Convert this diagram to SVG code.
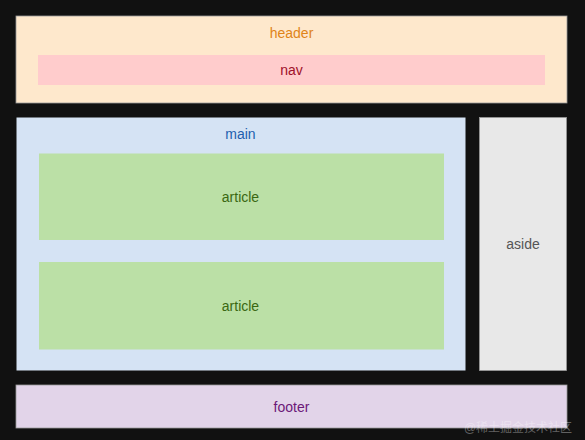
<svg xmlns="http://www.w3.org/2000/svg" width="585" height="440" viewBox="0 0 585 440">
<style>
text{font-family:"Liberation Sans",Arial,sans-serif;font-size:14px;text-anchor:middle;dominant-baseline:central}
.box{stroke:#9a9a9a;stroke-width:0.8}
</style>
<rect width="585" height="440" fill="#111111"/>
<g id="header">
<rect class="box" x="16" y="16" width="551" height="87" fill="#fee8cc"/>
<text x="291.5" y="33" fill="#e08418">header</text>
</g>
<g id="nav">
<rect x="38" y="55" width="507" height="30" fill="#ffcccc"/>
<text x="291.5" y="70" fill="#a0102a">nav</text>
</g>
<g id="main">
<rect x="16.5" y="117.5" width="449" height="253" fill="#d5e3f4"/>
<text x="240.5" y="134" fill="#1e5fae">main</text>
</g>
<g id="article1">
<rect x="39" y="153.5" width="405" height="86.5" fill="#bbe0a6"/>
<text x="240.5" y="196.5" fill="#3a6812">article</text>
</g>
<g id="article2">
<rect x="39" y="262" width="405" height="87.5" fill="#bbe0a6"/>
<text x="240.5" y="305.5" fill="#3a6812">article</text>
</g>
<g id="aside">
<rect class="box" x="479.5" y="117.5" width="87" height="253" fill="#e8e8e8"/>
<text x="523" y="244" fill="#555555">aside</text>
</g>
<g id="footer">
<rect class="box" x="16" y="385" width="551" height="43" fill="#e2d4e9"/>
<text x="291.5" y="406.5" fill="#6c1878">footer</text>
</g>
<g id="connectors"/>
<text x="518" y="428" fill="#ffffff" fill-opacity="0.35" style="font-size:12px;font-family:'Liberation Sans','Noto Sans CJK SC',sans-serif">@稀土掘金技术社区</text>
</svg>
